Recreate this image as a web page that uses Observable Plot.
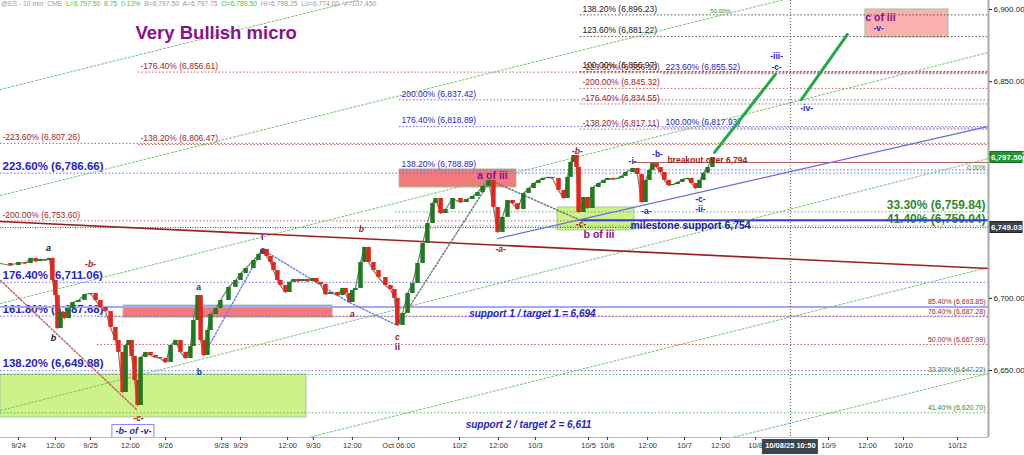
<!DOCTYPE html>
<html><head><meta charset="utf-8">
<script src="https://cdn.jsdelivr.net/npm/d3@7"></script>
<script src="https://cdn.jsdelivr.net/npm/@observablehq/plot@0.6"></script>
<style>
html,body{margin:0;padding:0;background:#fff;}
svg{display:block;}
</style></head><body><div id="chart"></div>
<script>
// ---------- DATA (time in trading hours from chart's left edge, price in points) ----------
const barHours = [0,3.3,6,8.3,10,11.7,13.3,15,16.3,17.3,
18.3,19,20,21.3,22.7,24,26,28,30,31.7,
33.3,35,36.7,38.3,39.3,40.7,41.7,42.7,43.7,44.7,
45.7,46.7,48.3,50,51.7,53.3,55,56.7,58.3,60,
61.7,63.3,64.3,65.7,66.7,67.7,69,70,71.7,73.3,
76,78.3,80,81.7,84.3,86,87.3,88.7,90,91,
92.3,93.3,95,96.3,97.7,99.3,100.7,102.3,104,105.3,
106.7,108.3,110,112.3,114,115,116.3,117.3,118.3,120,
121.3,122.7,124.3,126,128.3,130,131.3,132.3,134,135.7,
137.3,139,140.7,142.3,144,145,146.7,148.3,150.7,153.3,
155.3,157.3,159,160.7,162.7,164.3,165.7,167.3,169,170.7,
172.3,174.3,176,177.7,179.3,180.7,182.7,184,186,187.7,
189,190,191,192,192.7,194.3,195.7,197.3,199.3,201,
202.3,204,205.7,207,208.3,210.7,212.3,213.7,215,216.3,
217.3,218.7,220,221.3,222.7,224,225.7,227.3,229,230.3,
231.7,233,234.3,235.7,237.3];
const barClose = [6724.1,6722.7,6724.8,6724.1,6727.6,6725.5,6726.9,6726.2,6727.6,6712.3,
6701.9,6679.1,6690.2,6686.0,6692.9,6697.1,6698.5,6702.6,6703.3,6698.5,
6693.6,6690.9,6679.8,6670.8,6662.5,6634.8,6667.3,6670.8,6659.7,6643.1,
6625.8,6659.0,6662.5,6660.4,6659.0,6658.3,6655.5,6667.3,6670.8,6662.5,
6658.3,6666.6,6684.6,6701.9,6670.8,6660.4,6677.7,6688.8,6692.9,6698.5,
6707.5,6712.3,6717.1,6720.6,6726.2,6730.3,6733.8,6729.0,6724.8,6719.2,
6712.3,6708.9,6704.0,6711.0,6713.0,6711.6,6713.0,6711.6,6713.7,6711.0,
6709.5,6702.6,6704.0,6701.9,6706.8,6703.3,6697.1,6705.4,6706.8,6724.8,
6735.2,6724.8,6719.2,6714.4,6708.9,6706.1,6699.9,6681.2,6689.5,6703.3,
6710.2,6724.1,6737.9,6751.8,6765.6,6769.1,6758.7,6761.5,6769.1,6766.3,
6768.4,6770.5,6773.2,6777.4,6781.6,6762.9,6745.6,6756.0,6767.7,6765.6,
6761.5,6772.6,6776.0,6779.5,6781.6,6783.0,6783.7,6783.0,6774.7,6769.1,
6783.7,6794.0,6798.9,6790.6,6759.4,6769.8,6762.2,6776.7,6779.5,6781.6,
6783.0,6782.3,6783.0,6784.4,6787.1,6789.9,6785.7,6766.3,6781.6,6788.5,
6793.3,6790.6,6787.1,6781.6,6778.1,6778.8,6780.2,6782.3,6783.0,6779.5,
6776.0,6781.6,6786.6,6790.6,6797.5];

const X_MAX = 329.33, Y_MIN = 6603.6, Y_MAX = 6906.2;

const tickHours = [6,18.3,30,43.3,55,73.7,80,95.7,104.3,117.3,132.7,153,166,178.3,196,202.3,215.7,228,240,251.7,276,289,301,319];
const tickLabels = ["9/24","12:00","9/25","12:00","9/26","9/28","9/29","12:00","9/30","12:00","Oct 06:00","10/2","12:00","10/3","10/5","10/6","12:00","10/7","12:00","10/8","10/9","12:00","10/10","10/12"];
const priceTicks = [6650,6700,6800,6850,6900];
const cursorHour = 263.3, cursorLabel = "10/08/25 10:50";
const lastPrice = 6797.50, markPrice = 6749.03;

// Fibonacci levels
const blueBigLabels = ["223.60% (6,786.66)","176.40% (6,711.06)","161.80% (6,687.68)","138.20% (6,649.88)"];
const blueBigValues = [6786.66,6711.06,6687.68,6649.88];
const blueBigStart = [0,0,0,0];
const blueSmallLabels = ["138.20% (6,788.89)","200.00% (6,837.42)","176.40% (6,818.89)","100.00% (6,817.93)","223.60% (6,855.52)"];
const blueSmallValues = [6788.89,6837.42,6818.89,6817.93,6855.52];
const blueSmallStart = [133,133,133,221,221];
const redLabels = ["-200.00% (6,753.60)","-223.60% (6,807.26)","-176.40% (6,856.61)","-138.20% (6,806.47)","-223.60% (6,856.10)","-200.00% (6,845.32)","-176.40% (6,834.55)","-138.20% (6,817.11)"];
const redValues = [6753.60,6807.26,6856.61,6806.47,6856.10,6845.32,6834.55,6817.11];
const redStart = [0,0,46,46,193.3,193.3,193.3,193.3];
const blackLabels = ["138.20% (6,896.23)","123.60% (6,881.22)","100.00% (6,856.97)"];
const blackValues = [6896.23,6881.22,6856.97];
const blackStart = [193.3,193.3,193.3];
const redRightLabels = ["85.40% (6,693.85)","76.40% (6,687.28)","50.00% (6,667.99)"];
const redRightValues = [6693.85,6687.28,6667.99];
const redRightStart = [32.3,32.3,32.3];
const greenBigLabels = ["33.30% (6,759.84)","41.40% (6,750.04)"];
const greenBigValues = [6759.84,6750.04];
const greenBigStart = [131.7,131.7];
const greenSmallLabels = ["33.30% (6,647.22)","41.40% (6,620.70)"];
const greenSmallValues = [6647.22,6620.70];
const greenSmallStart = [0,0];

// support / resistance
const support1 = 6694, milestone = 6754, breakout = 6794;
const milestoneStart = 193.3, breakoutStart = 210.7;

// zones
const zoneH1 = [133,41,0,185.7,288.3];
const zoneH2 = [172,110.7,102,211.3,316];
const zoneP1 = [6789.2,6695.0,6647.2,6762.9,6900.0];
const zoneP2 = [6776.7,6686.7,6617.5,6747.0,6880.6];
const zoneKind = ["resist","resist","support","support","target"];

// channel lines (price at left edge, price at right edge)
const chanLeft = [6844.6,6771.2,6696.4,6622.3,6550.3,6476.9];
const chanRight = [7015.6,6942.2,6870.2,6796.8,6721.3,6647.9];
// trend lines
const redTrend = [[0,6753.2],[329.33,6720.6]];
const blueTrend = [[165.7,6741.4],[329.33,6819.0]];
// projected path
const proj1 = [[238,6801.0],[258.3,6855.0]];
const proj2 = [[267,6837.7],[282.3,6882.7]];
// wave connectors
const redConn = [[0,6712.3],[45.7,6622.3]];
const blueConn = [[67.7,6660.4],[87.3,6733.8],[116.3,6697.1],[132.3,6681.2]];
const greyConn = [[132.3,6681.2],[163.3,6781.6],[193.3,6754.0]];

// wave labels
const waveText = ["a","b","-b-","-c-","b","a","c","-a-","-b-","-c-",
  "a","b","-i-","-a-","-b-","-c-","-ii-","-iii-","-c-","-iv-","-v-",
  "I","c","ii","a of iii","b of iii","c of iii"];
const waveHour = [16,17.7,30,46,120.3,117.3,132.3,166.7,192.3,193.5,
  66,66.3,210.7,215.3,219,233.3,233.3,258.7,258.7,268.7,292.7,
  87.3,87.5,132.3,164,199.5,293.3];
const wavePrice = [6734.5,6672.2,6723.4,6616.8,6747.6,6688.8,6672.8,6733.8,6801.7,6751.0,
  6707.5,6648.6,6794.7,6760.1,6799.6,6768.4,6761.5,6867.4,6859.8,6831.4,6886.8,
  6742.8,6733.8,6666.6,6785.0,6744.0,6894.5];
const waveKind = ["black","black","red","red","red","red","red","red","red","red",
  "blue","blue","blue","blue","blue","blue","blue","blue","blue","blue","blue",
  "purple","purple","purple","purpleBig","purpleBig","purpleBig"];

const boxedLabel = {t: "-b- of -v-", h: 44.3, p: 6607.8};
const notes = ["breakout over 6,794","milestone support 6,754","support 1 / target 1 = 6,694","support 2 / target 2 = 6,611"];
const noteHour = [222.3,210,177.3,176];
const notePrice = [6795.4,6750.4,6689.5,6612.6];
const fanLabel = {t: "50.00%", h: 240, p: 6898.6};
const zeroLabel = {t: "0.00%", p: 6790.0};
const title = "Very Bullish micro";
const headerParts = [["@ES - 10 min  CME  ","grey"],["L=6,797.50  8.75  0.13%  ","green"],["B=6,797.50  A=6,797.75  ","grey"],["O=6,789.50  ","green"],["Hi=6,798.25  Lo=6,774.00  V=107,450","grey"]];

// ---------- DRAWING ----------
const FONT = "'Liberation Sans', Arial, sans-serif";
const C = {blue:"#2424c8", blueLine:"#6b6bf0", red:"#a41c1c", redLine:"#c46464", black:"#222", blackLine:"#555",
  green:"#2e8b2e", greenLine:"#5fb35f", purple:"#8b108b", candleUp:"#1d7a1d", candleDn:"#e8231a"};
const pts = a => a.map(([h,p]) => ({h,p}));
const bars = barHours.map((h,i) => ({h, open: i ? barClose[i-1] : barClose[0], close: barClose[i]}));
const zones = zoneH1.map((h,i) => ({x1:h, x2:zoneH2[i], y1:zoneP1[i], y2:zoneP2[i], k:zoneKind[i]}));
const zoneFill = {resist:"#f27a7a", support:"#cdf28a", target:"#f9b0b0"};
const chans = chanLeft.flatMap((p,i) => [{h:0,p,k:i},{h:X_MAX,p:chanRight[i],k:i}]);
const tickMap = new Map(tickHours.map((h,i) => [h, tickLabels[i]]));

function levelMarks(labels, values, starts, o) {
  const rows = labels.map((t,i) => ({t, v: values[i], s: starts[i]}));
  return [
    Plot.ruleY(rows, {y:"v", x1:"s", x2:() => X_MAX, stroke:o.line, strokeDasharray:"1.5,2", strokeWidth:1}),
    Plot.text(rows, {x: o.right ? () => X_MAX : "s", y:"v", text:"t", textAnchor: o.right ? "end" : "start",
      dx: o.right ? -3 : 2, dy: o.dy, fill:o.text, fontSize:o.size, fontWeight:o.weight || "normal", lineAnchor:"middle"})
  ];
}

const waveStyle = {
  black:{fill:C.black, fontSize:9, fontStyle:"italic"},
  red:{fill:C.red, fontSize:8.5, fontStyle:"italic"},
  blue:{fill:C.blue, fontSize:8.5, fontStyle:"normal"},
  purple:{fill:C.purple, fontSize:9.5, fontStyle:"normal"},
  purpleBig:{fill:C.purple, fontSize:10.5, fontStyle:"normal"}
};
const waves = waveText.map((t,i) => ({t, h: waveHour[i], p: wavePrice[i], k: waveKind[i]}));
const waveMarks = Object.keys(waveStyle).map(k => Plot.text(waves.filter(d => d.k === k),
  {x:"h", y:"p", text:"t", fontWeight:"bold", lineAnchor:"middle", ...waveStyle[k]}));

const noteRows = notes.map((t,i) => ({t, h: noteHour[i], p: notePrice[i]}));

const chart = Plot.plot({
  width: 1024, height: 455,
  marginLeft: 0, marginRight: 36, marginTop: 0, marginBottom: 18,
  x: {domain:[0, X_MAX], axis:null},
  y: {domain:[Y_MIN, Y_MAX], axis:null},
  style: {fontFamily: FONT, background:"#fff", overflow:"visible"},
  marks: [
    // zones
    Plot.rect(zones, {x1:"x1", x2:"x2", y1:"y1", y2:"y2", fill: d => zoneFill[d.k], stroke:"#9fc79f", strokeWidth:1}),
    // fib levels
    ...levelMarks(greenSmallLabels, greenSmallValues, greenSmallStart, {line:C.greenLine, text:C.green, size:7, dy:-5, right:true}),
    ...levelMarks(redRightLabels, redRightValues, redRightStart, {line:C.redLine, text:C.red, size:7, dy:-5, right:true}),
    ...levelMarks(blueBigLabels, blueBigValues, blueBigStart, {line:C.blueLine, text:C.blue, size:11.5, weight:"bold", dy:-7}),
    ...levelMarks(blueSmallLabels, blueSmallValues, blueSmallStart, {line:C.blueLine, text:C.blue, size:8.5, dy:-6}),
    ...levelMarks(redLabels, redValues, redStart, {line:C.redLine, text:C.red, size:8.5, dy:-6}),
    ...levelMarks(blackLabels, blackValues, blackStart, {line:C.blackLine, text:C.black, size:8.5, dy:-6}),
    ...levelMarks(greenBigLabels, greenBigValues, greenBigStart, {line:C.greenLine, text:C.green, size:12, weight:"bold", dy:-7, right:true}),
    Plot.text([zeroLabel], {x:() => X_MAX, y:"p", text:"t", textAnchor:"end", dx:-3, fill:C.green, fontSize:6.5}),
    // horizontal supports
    Plot.ruleY([markPrice], {stroke:"#444", strokeDasharray:"1,1.5"}),
    Plot.ruleY([support1], {stroke:"#a6a6ff", strokeWidth:2}),
    Plot.ruleY([milestone], {x1:milestoneStart, x2:X_MAX, stroke:"#3a3ad0", strokeWidth:2}),
    Plot.ruleY([breakout], {x1:breakoutStart, x2:X_MAX, stroke:"#b55a5a", strokeWidth:1}),
    // channel lines
    Plot.line(chans, {x:"h", y:"p", z:"k", stroke:"#76c076", strokeDasharray:"2,2", strokeWidth:1, clip:true}),
    Plot.text([fanLabel], {x:"h", y:"p", text:"t", fill:C.green, fontSize:6}),
    // trend lines
    Plot.line(pts(redTrend), {x:"h", y:"p", stroke:"#9a1e1e", strokeWidth:1.6}),
    Plot.line(pts(blueTrend), {x:"h", y:"p", stroke:"#6a6ae8", strokeWidth:1.2}),
    // connectors
    Plot.line(pts(redConn), {x:"h", y:"p", stroke:"#c46464", strokeDasharray:"1.5,2"}),
    Plot.line(pts(blueConn), {x:"h", y:"p", stroke:"#7a7af0", strokeDasharray:"1.5,2"}),
    Plot.line(pts(greyConn), {x:"h", y:"p", stroke:"#777", strokeDasharray:"1.5,2"}),
    // cursor
    Plot.ruleX([cursorHour], {stroke:"#555", strokeDasharray:"1,2"}),
    // candles
    Plot.line(bars, {x:"h", y:"close", stroke:"#777", strokeWidth:1.2}),
    Plot.ruleX(bars, {x:"h", y1:"open", y2:"close", stroke: d => d.close >= d.open ? C.candleUp : C.candleDn, strokeWidth:4.5}),
    // projections
    Plot.line(pts(proj1), {x:"h", y:"p", stroke:"#22aa44", strokeWidth:3}),
    Plot.line(pts(proj2), {x:"h", y:"p", stroke:"#22aa44", strokeWidth:3}),
    // wave labels
    ...waveMarks,
    Plot.rect([boxedLabel], {x1:"h", x2:"h", y1:"p", y2:"p", insetLeft:-21, insetRight:-21, insetTop:-6.5, insetBottom:-6.5, fill:"#fff", stroke:"#8080ff"}),
    Plot.text([boxedLabel], {x:"h", y:"p", text:"t", fill:C.blue, fontSize:9, fontWeight:"bold", fontStyle:"italic"}),
    Plot.text(noteRows.slice(0,1), {x:"h", y:"p", text:"t", textAnchor:"start", fill:C.red, fontSize:8.5, fontWeight:"bold"}),
    Plot.text(noteRows.slice(1,2), {x:"h", y:"p", text:"t", textAnchor:"start", fill:"#1e1ea0", fontSize:10.5, fontWeight:"bold"}),
    Plot.text(noteRows.slice(2), {x:"h", y:"p", text:"t", fill:C.blue, fontSize:10, fontWeight:"bold", fontStyle:"italic"}),
    // title
    Plot.text([title], {frameAnchor:"top-left", dx:135, dy:33, textAnchor:"start", lineAnchor:"middle", fill:C.purple, fontSize:18.5, fontWeight:"bold"}),
    // axes
    Plot.ruleY([Y_MIN], {stroke:"#bbb"}),
    Plot.ruleX([X_MAX], {stroke:"#aaa", strokeWidth:2}),
    Plot.axisY({anchor:"right", ticks:priceTicks, tickFormat:d3.format(",.2f"), tickSize:3, tickPadding:2, fontSize:8, color:"#222"}),
    Plot.axisX({anchor:"bottom", ticks:tickHours, tickFormat:d => tickMap.get(d), tickSize:3, tickPadding:2, fontSize:7.5, color:"#333"}),
    // price tags
    Plot.rect([lastPrice], {x1:() => X_MAX, x2:() => X_MAX, y1:d => d, y2:d => d, insetLeft:2, insetRight:-34, insetTop:-5.5, insetBottom:-5.5, fill:"#23962f", stroke:"#1a6a22"}),
    Plot.text([lastPrice], {x:() => X_MAX, y:d => d, text:d3.format(",.2f"), dx:18, fill:"#fff", fontSize:8, fontWeight:"bold"}),
    Plot.rect([markPrice], {x1:() => X_MAX, x2:() => X_MAX, y1:d => d, y2:d => d, insetLeft:2, insetRight:-34, insetTop:-5.5, insetBottom:-5.5, fill:"#3b4550", stroke:"#222"}),
    Plot.text([markPrice], {x:() => X_MAX, y:d => d, text:d3.format(",.2f"), dx:18, fill:"#fff", fontSize:8, fontWeight:"bold"}),
    // cursor time tag
    Plot.rect([cursorHour], {x1:d => d, x2:d => d, y1:() => Y_MIN, y2:() => Y_MIN, insetLeft:-28, insetRight:-28, insetTop:2, insetBottom:-17, fill:"#3b4550"}),
    Plot.text([cursorLabel], {x:() => cursorHour, frameAnchor:"bottom", dy:10, fill:"#fff", fontSize:7.5, fontWeight:"bold"})
  ]
});

document.getElementById("chart").appendChild(chart);

// header quote line
const headerColors = {grey:"#9a9a9a", green:"#33cc33"};
const header = d3.select(chart).append("text").attr("x", 1).attr("y", 6)
  .attr("text-anchor", "start").attr("font-family", FONT).attr("font-size", 6.8).style("white-space", "pre");
headerParts.forEach(([t,c]) => header.append("tspan").attr("fill", headerColors[c]).text(t));
</script>
</body></html>
